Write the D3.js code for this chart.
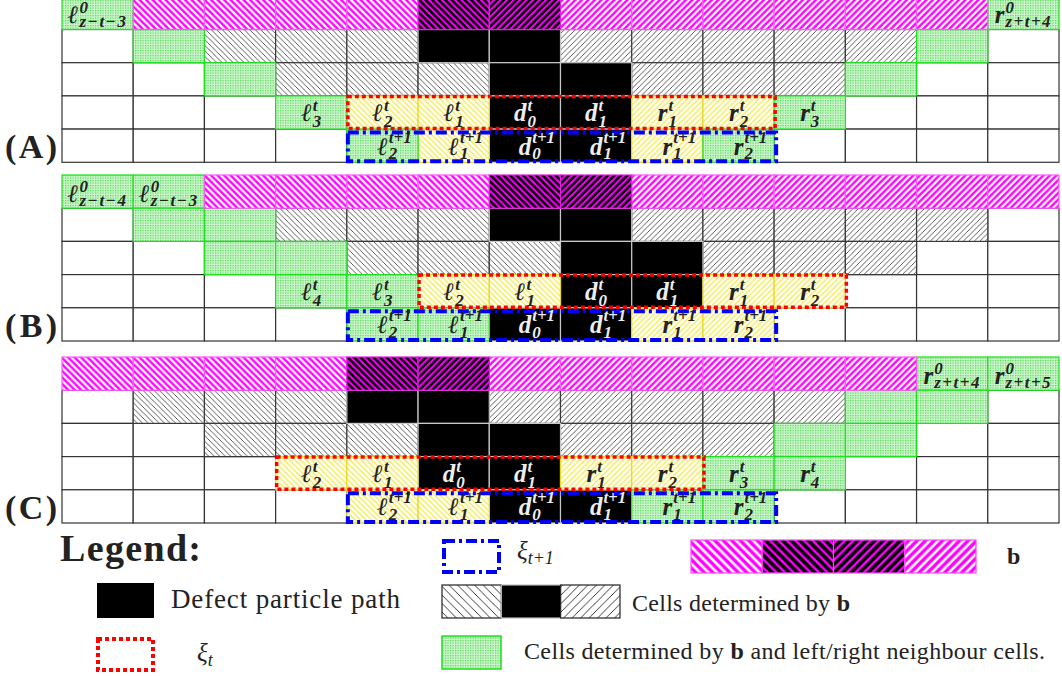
<!DOCTYPE html>
<html>
<head>
<meta charset="utf-8">
<script src="https://cdn.jsdelivr.net/npm/d3@7"></script>
<style>
    body { margin: 0; background: #fff; }
    .lab { font-family: "Liberation Serif", "DejaVu Serif", serif; font-weight: bold; font-style: italic; }
    .txt { font-family: "Liberation Serif", "DejaVu Serif", serif; fill: #222; }
</style>
</head>
<body>
<svg id="fig" width="1062" height="676"></svg>
<script>
// cell codes: w white, g green (dots), L/R black hatch \ and /, k black,
// m/M magenta hatch, p/q dark magenta hatch, y/Y yellow hatch
const columns = d3.range(14);
const rows = d3.range(5);
const panelNames = ["(A)", "(B)", "(C)"];

const cellsA = ["gmmmmpqMMMMMMg", "wgLLLkkRRRRRgw", "wwgLLLkkRRRgww", "wwwgyykkYYgwww", "wwwwgykkYgwwww"];
const cellsB = ["ggmmmmpqMMMMMM", "wggLLLkkRRRRRw", "wwggLLLkkRRRww", "wwwggyykkYYwww", "wwwwggkkYYwwww"];
const cellsC = ["mmmmpqMMMMMMgg", "wLLLkkRRRRRggw", "wwLLLkkRRRggww", "wwwyykkYYggwww", "wwwwyykkggwwww"];

// [row, col, letter, superscript, subscript]
const nextRow = [[4, 4, "ℓ", "t+1", "2"], [4, 5, "ℓ", "t+1", "1"], [4, 6, "d", "t+1", "0"],
                 [4, 7, "d", "t+1", "1"], [4, 8, "r", "t+1", "1"], [4, 9, "r", "t+1", "2"]];
const labelsA = [[0, 0, "ℓ", "0", "z−t−3"], [0, 13, "r", "0", "z+t+4"],
                 [3, 3, "ℓ", "t", "3"], [3, 4, "ℓ", "t", "2"], [3, 5, "ℓ", "t", "1"], [3, 6, "d", "t", "0"],
                 [3, 7, "d", "t", "1"], [3, 8, "r", "t", "1"], [3, 9, "r", "t", "2"], [3, 10, "r", "t", "3"]].concat(nextRow);
const labelsB = [[0, 0, "ℓ", "0", "z−t−4"], [0, 1, "ℓ", "0", "z−t−3"],
                 [3, 3, "ℓ", "t", "4"], [3, 4, "ℓ", "t", "3"], [3, 5, "ℓ", "t", "2"], [3, 6, "ℓ", "t", "1"],
                 [3, 7, "d", "t", "0"], [3, 8, "d", "t", "1"], [3, 9, "r", "t", "1"], [3, 10, "r", "t", "2"]].concat(nextRow);
const labelsC = [[0, 12, "r", "0", "z+t+4"], [0, 13, "r", "0", "z+t+5"],
                 [3, 3, "ℓ", "t", "2"], [3, 4, "ℓ", "t", "1"], [3, 5, "d", "t", "0"], [3, 6, "d", "t", "1"],
                 [3, 7, "r", "t", "1"], [3, 8, "r", "t", "2"], [3, 9, "r", "t", "3"], [3, 10, "r", "t", "4"]].concat(nextRow);

// xi boxes: [row, first col, last col]
const xiT = [[3, 4, 9], [3, 5, 10], [3, 3, 8]];
const xiT1 = [[4, 4, 9], [4, 4, 9], [4, 4, 9]];

const legendText = ["Legend:", "Defect particle path", "Cells determined by ", " and left/right neighbour cells."];
const boundaryCodes = ["m", "p", "q", "M"];
const ruleCodes = ["L", "k", "R"];

const panels = [
    {name: panelNames[0], cells: cellsA, labels: labelsA, xi: xiT[0], xi1: xiT1[0], top: -3.7},
    {name: panelNames[1], cells: cellsB, labels: labelsB, xi: xiT[1], xi1: xiT1[1], top: 175},
    {name: panelNames[2], cells: cellsC, labels: labelsC, xi: xiT[2], xi1: xiT1[2], top: 357}
];

const svg = d3.select("#fig");
const defs = svg.append("defs");

function hatch(id, dir, s, bg, fg, sw) {
    const p = defs.append("pattern").attr("id", id)
        .attr("patternUnits", "userSpaceOnUse").attr("width", s).attr("height", s);
    p.append("rect").attr("width", s).attr("height", s).attr("fill", bg);
    const h = s / 2;
    const d = dir === "\\"
        ? `M0,0L${s},${s}M${-h},${h}L${h},${s + h}M${h},${-h}L${s + h},${h}`
        : `M0,${s}L${s},0M${-h},${h}L${h},${-h}M${h},${s + h}L${s + h},${h}`;
    p.append("path").attr("d", d).attr("stroke", fg).attr("stroke-width", sw);
}
hatch("hL", "\\", 5.5, "#fff", "#333", 0.8);
hatch("hR", "/", 5.5, "#fff", "#333", 0.8);
hatch("mL", "\\", 6.5, "#ff00ff", "#fff", 2.2);
hatch("mR", "/", 6.5, "#ff00ff", "#fff", 2.2);
hatch("pL", "\\", 6.5, "#000", "#ff00ff", 2);
hatch("pR", "/", 6.5, "#000", "#ff00ff", 2);
hatch("yL", "\\", 5.5, "#fffff0", "#f2e440", 1.1);
hatch("yR", "/", 5.5, "#fffff0", "#f2e440", 1.1);
// legend versions with wider spacing
hatch("hL8", "\\", 8.5, "#fff", "#222", 0.9);
hatch("hR8", "/", 8.5, "#fff", "#222", 0.9);
hatch("mL8", "\\", 8.5, "#ff00ff", "#fff", 2.6);
hatch("mR8", "/", 8.5, "#ff00ff", "#fff", 2.6);
hatch("pL8", "\\", 8.5, "#000", "#ff00ff", 2.4);
hatch("pR8", "/", 8.5, "#000", "#ff00ff", 2.4);

const dots = defs.append("pattern").attr("id", "dots")
    .attr("patternUnits", "userSpaceOnUse").attr("width", 2.5).attr("height", 2.5);
dots.append("rect").attr("width", 2.5).attr("height", 2.5).attr("fill", "#cbf7cb");
dots.append("rect").attr("width", 1.2).attr("height", 1.2).attr("fill", "#52d452");

const style = {
    w: {fill: "#fff", stroke: "#333"},
    L: {fill: "url(#hL)", stroke: "#3a3a3a"},
    R: {fill: "url(#hR)", stroke: "#3a3a3a"},
    k: {fill: "#000", stroke: "#c8c8c8"},
    y: {fill: "url(#yL)", stroke: "#e8d820"},
    Y: {fill: "url(#yR)", stroke: "#e8d820"},
    g: {fill: "url(#dots)", stroke: "#1ee01e"},
    m: {fill: "url(#mL)", stroke: "#ff55ff"},
    M: {fill: "url(#mR)", stroke: "#ff55ff"},
    p: {fill: "url(#pL)", stroke: "#e020e0"},
    q: {fill: "url(#pR)", stroke: "#e020e0"}
};
const legendStyle = {m: "url(#mL8)", M: "url(#mR8)", p: "url(#pL8)", q: "url(#pR8)",
                     L: "url(#hL8)", R: "url(#hR8)", k: "#000"};
const drawOrder = "wLRkyYgmMpq";

const x = d3.scaleBand().domain(columns).range([62, 1059]);

panels.forEach(panel => {
    const y = d3.scaleBand().domain(rows).range([panel.top, panel.top + 166]);
    const g = svg.append("g");

    const cells = [];
    panel.cells.forEach((line, r) => line.split("").forEach((code, c) => cells.push({r, c, code})));
    cells.sort((a, b) => drawOrder.indexOf(a.code) - drawOrder.indexOf(b.code));

    g.selectAll("rect.cell").data(cells).enter().append("rect")
        .attr("class", "cell")
        .attr("x", d => x(d.c)).attr("y", d => y(d.r))
        .attr("width", x.bandwidth()).attr("height", y.bandwidth())
        .attr("fill", d => style[d.code].fill)
        .attr("stroke", d => style[d.code].stroke)
        .attr("stroke-width", 1.2);

    // xi_t (red dotted) and xi_{t+1} (blue dash-dot)
    const [r0, c0, c1] = panel.xi;
    g.append("rect")
        .attr("x", x(c0) + 1).attr("y", y(r0) + 0.5)
        .attr("width", x(c1) + x.bandwidth() - x(c0)).attr("height", y.bandwidth() - 1)
        .attr("fill", "none").attr("stroke", "#ff0000").attr("stroke-width", 3.5)
        .attr("stroke-dasharray", "4,3");
    const [s0, d0, d1] = panel.xi1;
    g.append("rect")
        .attr("x", x(d0) + 1).attr("y", y(s0) + 3.5)
        .attr("width", x(d1) + x.bandwidth() - x(d0) + 1).attr("height", y.bandwidth() - 4.5)
        .attr("fill", "none").attr("stroke", "#0000ff").attr("stroke-width", 4)
        .attr("stroke-dasharray", "11,4,3,4");

    // cell labels: one text per label, letter + stacked super/subscript
    panel.labels.forEach(([r, c, base, sup, sub]) => {
        const dark = panel.cells[r][c] === "k";
        const top = y(r);
        const t = g.append("text").attr("class", "lab").attr("fill", dark ? "#eeeeee" : "#222");
        const tb = t.append("tspan").attr("y", top + (r === 0 ? 26.5 : 25.5)).attr("font-size", 25).text(base);
        const ts = t.append("tspan").attr("y", top + (r === 0 ? 17 : r === 4 ? 13.5 : 15))
            .attr("font-size", 17).text(sup);
        const tu = t.append("tspan").attr("y", top + (r === 4 ? 30 : 31)).attr("font-size", 17)
            .attr("letter-spacing", sub.length > 2 ? 1.5 : 0).text(sub);
        const wb = tb.node().getComputedTextLength();
        const wr = Math.max(ts.node().getComputedTextLength(), tu.node().getComputedTextLength());
        const shift = r === 4 ? 12 : 0;
        const x0 = x(c) + x.bandwidth() / 2 - (wb + 1 + wr) / 2 + shift;
        tb.attr("x", x0);
        ts.attr("x", x0 + wb + 1);
        tu.attr("x", x0 + wb + 1);
    });

    svg.append("text").attr("class", "txt")
        .attr("x", 5).attr("y", panel.top + 162)
        .attr("font-size", 34).attr("font-weight", "bold").attr("fill", "#111")
        .attr("textLength", 52).text(panel.name);
});

// legend
const leg = svg.append("g");
leg.append("text").attr("class", "txt").attr("x", 60).attr("y", 561)
    .attr("font-size", 38).attr("font-weight", "bold").attr("fill", "#111")
    .attr("textLength", 141).text(legendText[0]);

leg.append("rect").attr("x", 97).attr("y", 583).attr("width", 57).attr("height", 35).attr("fill", "#000");
leg.append("text").attr("class", "txt").attr("x", 171).attr("y", 608).attr("font-size", 27)
    .attr("textLength", 229).text(legendText[1]);

leg.append("rect").attr("x", 98).attr("y", 639).attr("width", 55).attr("height", 31)
    .attr("fill", "none").attr("stroke", "#ff0000").attr("stroke-width", 4).attr("stroke-dasharray", "4,3");
const xt = leg.append("text").attr("class", "txt").attr("x", 197).attr("y", 661).attr("font-size", 25);
xt.append("tspan").attr("font-style", "italic").text("ξ");
xt.append("tspan").attr("font-style", "italic").attr("font-size", 18).attr("dy", 5).text("t");

leg.append("rect").attr("x", 444).attr("y", 541).attr("width", 55).attr("height", 31)
    .attr("fill", "none").attr("stroke", "#0000ff").attr("stroke-width", 4).attr("stroke-dasharray", "11,4,3,4");
const xt1 = leg.append("text").attr("class", "txt").attr("x", 517).attr("y", 559).attr("font-size", 25);
xt1.append("tspan").attr("font-style", "italic").text("ξ");
xt1.append("tspan").attr("font-style", "italic").attr("font-size", 18).attr("dy", 5).text("t+1");

// b bar
const bx = d3.scaleBand().domain(d3.range(boundaryCodes.length)).range([691, 976]);
leg.selectAll("rect.bseg").data(boundaryCodes).enter().append("rect")
    .attr("class", "bseg")
    .attr("x", (d, i) => bx(i)).attr("y", 540)
    .attr("width", bx.bandwidth()).attr("height", 33)
    .attr("fill", d => legendStyle[d]).attr("stroke", "#ff44ff").attr("stroke-width", 1.2);
leg.append("text").attr("class", "txt").attr("x", 1007).attr("y", 564)
    .attr("font-size", 24).attr("font-weight", "bold").text("b");

// rule cells
const rx = d3.scaleBand().domain(d3.range(ruleCodes.length)).range([442, 620]);
leg.selectAll("rect.rseg").data(ruleCodes).enter().append("rect")
    .attr("class", "rseg")
    .attr("x", (d, i) => rx(i)).attr("y", 585)
    .attr("width", rx.bandwidth()).attr("height", 33)
    .attr("fill", d => legendStyle[d]).attr("stroke", d => d === "k" ? "#bbb" : "#222").attr("stroke-width", 1.2);
const t1 = leg.append("text").attr("class", "txt").attr("x", 632).attr("y", 611)
    .attr("font-size", 24).attr("textLength", 218);
t1.append("tspan").text(legendText[2]);
t1.append("tspan").attr("font-weight", "bold").text("b");

leg.append("rect").attr("x", 442).attr("y", 636).attr("width", 59).attr("height", 33)
    .attr("fill", "url(#dots)").attr("stroke", "#1ee01e").attr("stroke-width", 1.5);
const t2 = leg.append("text").attr("class", "txt").attr("x", 524).attr("y", 659)
    .attr("font-size", 24).attr("textLength", 521);
t2.append("tspan").text(legendText[2]);
t2.append("tspan").attr("font-weight", "bold").text("b");
t2.append("tspan").text(legendText[3]);
</script>
</body>
</html>
